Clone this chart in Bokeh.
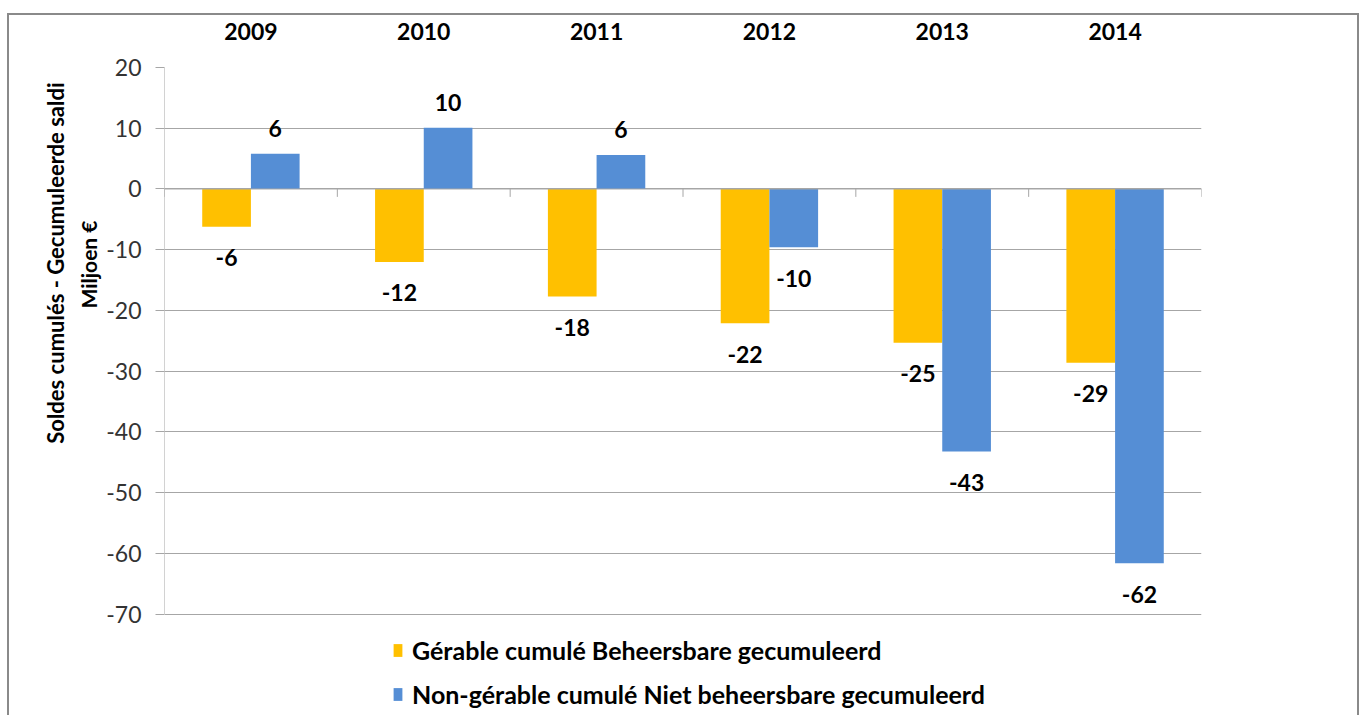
from bokeh.plotting import figure
from bokeh.models import (FactorRange, Range1d, ColumnDataSource, FixedTicker, Span,
                          Title, Legend, LegendItem)
from bokeh.transform import dodge
from bokeh.core.properties import value
from bokeh.embed import file_html
from bokeh.resources import INLINE

years = ["2009", "2010", "2011", "2012", "2013", "2014"]
gerable = [-6.2, -12.0, -17.7, -22.1, -25.3, -28.6]
non_gerable = [5.8, 10.1, 5.6, -9.6, -43.2, -61.6]
y_ticks = [-70, -60, -50, -40, -30, -20, -10, 0, 10, 20]
series_names = ["Gérable cumulé Beheersbare gecumuleerd",
                "Non-gérable cumulé Niet beheersbare gecumuleerd"]
colors = ["#FFC000", "#558ED5"]
y_title = ["Soldes cumulés - Gecumuleerde saldi", "Miljoen €"]

FONT = "Lato"
GRID = "#A6A6A6"

W, H = 1352, 702
TOP = 52                      # px above the plotting area
AXIS_PX = 545                 # px spanned by the value axis (y_ticks[-1] .. y_ticks[0])
frame_h = (H - 2) - TOP       # plotting frame reaches the bottom to host the legend
y_lo, y_hi = y_ticks[0], y_ticks[-1]
y_start = y_hi - (y_hi - y_lo) * frame_h / AXIS_PX

p = figure(width=W, height=H,
           x_range=FactorRange(factors=years, range_padding=0),
           y_range=Range1d(y_start, y_hi),
           x_axis_location="above",
           output_backend="svg", toolbar_location=None,
           min_border_left=155, min_border_right=160,
           min_border_top=TOP, min_border_bottom=0)
p.styles = {"border-top": "2px solid #8A8A8A", "border-left": "2px solid #8A8A8A",
            "border-right": "2px solid #8A8A8A", "margin-top": "13px",
            "margin-left": "7px", "box-sizing": "border-box"}
p.outline_line_color = None
p.background_fill_color = "white"
p.border_fill_color = "white"

# y axis
yax = p.yaxis[0]
yax.ticker = FixedTicker(ticks=y_ticks)
yax.major_label_overrides = {t: str(t) for t in y_ticks}
yax.axis_line_color = None
yax.major_tick_line_color = GRID
yax.major_tick_out = 9
yax.major_tick_in = 0
yax.minor_tick_line_color = None
yax.major_label_text_font = FONT
yax.major_label_text_font_size = "23px"
yax.major_label_text_color = "#333333"
yax.major_label_standoff = 14

# category axis on top
xax = p.xaxis[0]
xax.axis_line_color = None
xax.major_tick_line_color = None
xax.minor_tick_line_color = None
xax.major_label_text_font = FONT
xax.major_label_text_font_style = "bold"
xax.major_label_text_font_size = "23px"
xax.major_label_text_color = "black"
xax.major_label_standoff = 22

p.xgrid.grid_line_color = None
p.ygrid.grid_line_color = GRID
p.ygrid.ticker = FixedTicker(ticks=y_ticks)

def lbl(vals):
    return [f"{v:.0f}" for v in vals]

def offs(vals):
    return [-25 if v > 0 else 31 for v in vals]

src = ColumnDataSource(dict(year=years, g=gerable, n=non_gerable,
                            g_lab=lbl(gerable), n_lab=lbl(non_gerable),
                            g_off=offs(gerable), n_off=offs(non_gerable)))

bw = 0.2817
r1 = p.vbar(x=dodge("year", -bw / 2, range=p.x_range), top="g", bottom=0, width=bw,
            source=src, fill_color=colors[0], line_color=None)
r2 = p.vbar(x=dodge("year", bw / 2, range=p.x_range), top="n", bottom=0, width=bw,
            source=src, fill_color=colors[1], line_color=None)

# value axis line (only over the value span)
p.segment(x0=[(years[0], -0.5)], y0=[y_lo], x1=[(years[0], -0.5)], y1=[y_hi],
          line_color=GRID, line_width=1)

# zero (category) axis line
p.add_layout(Span(location=0, dimension="width", line_color=GRID, line_width=1))

# category boundary ticks
bsrc = ColumnDataSource(dict(x=[(y, -0.5) for y in years] + [(years[-1], 0.5)],
                             y0=[0] * (len(years) + 1), y1=[-1.3] * (len(years) + 1)))
p.segment(x0="x", y0="y0", x1="x", y1="y1", source=bsrc, line_color=GRID, line_width=1)

# data labels
for col, lab, off, sign in (("g", "g_lab", "g_off", -1), ("n", "n_lab", "n_off", 1)):
    p.text(x=dodge("year", sign * bw / 2, range=p.x_range), y=col, text=lab, y_offset=off,
           source=src, text_font=value(FONT), text_font_style="bold",
           text_font_size="23px", text_color="black",
           text_align="center", text_baseline="middle")

# y axis title (two lines, rotated) as side titles
t2 = Title(text=y_title[1], align="right", offset=153, standoff=6,
           text_font=FONT, text_font_style="bold", text_font_size="21px",
           text_color="black")
t1 = Title(text=y_title[0], align="right", offset=15, standoff=4,
           text_font=FONT, text_font_style="bold", text_font_size="22px",
           text_color="black")
p.add_layout(t2, "left")
p.add_layout(t1, "left")

legend = Legend(items=[LegendItem(label=series_names[0], renderers=[r1]),
                       LegendItem(label=series_names[1], renderers=[r2])],
                location=(228, 8), orientation="vertical",
                glyph_width=11, glyph_height=16, label_height=30, spacing=14,
                label_standoff=9, padding=0, margin=0,
                border_line_color=None, background_fill_alpha=0,
                label_text_font=FONT, label_text_font_style="bold",
                label_text_font_size="25px", label_text_color="black")
p.add_layout(legend, "center")

open("out.html", "w").write(file_html(p, INLINE))
